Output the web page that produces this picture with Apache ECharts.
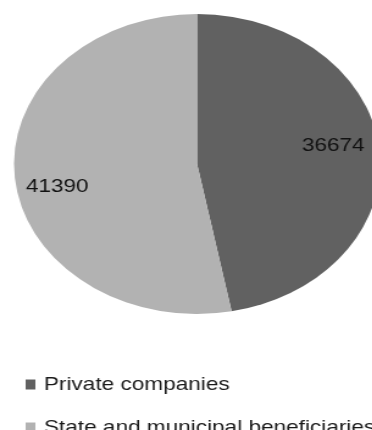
<!DOCTYPE html>
<html>
<head>
<meta charset="utf-8">
<script src="https://cdn.jsdelivr.net/npm/echarts@6/dist/echarts.min.js"></script>
<style>
  html, body { margin: 0; padding: 0; background: #fff; overflow: hidden; height: 430px; }
  /* the reference picture is stretched sideways, so the chart is drawn narrow and scaled */
  #chart { width: 305px; height: 480px; transform: scaleX(1.22); transform-origin: 0 0; }
</style>
</head>
<body>
<div id="chart"></div>
<script>
const categories = ['Private companies', 'State and municipal beneficiaries'];
const values = [36674, 41390];
const colors = ['#616161', '#b2b2b2'];
const labelShift = [[34, -11], [-37, 16]];

const chart = echarts.init(document.getElementById('chart'));
chart.setOption({
  animation: false,
  color: colors,
  legend: {
    orient: 'vertical',
    left: 16,
    top: 370,
    itemWidth: 8,
    itemHeight: 10,
    itemGap: 24,
    icon: 'rect',
    textStyle: {
      fontFamily: 'Liberation Sans',
      fontSize: 18.5,
      lineHeight: 18,
      color: '#1a1a1a',
      padding: [0, 0, 0, 2]
    },
    data: categories
  },
  series: [
    {
      type: 'pie',
      center: [161.5, 164],
      radius: 150,
      startAngle: 90,
      clockwise: true,
      silent: true,
      label: {
        show: true,
        position: 'inside',
        formatter: '{c}',
        fontFamily: 'Liberation Sans',
        fontSize: 18.5,
        color: '#111'
      },
      labelLine: { show: false },
      labelLayout: function (p) {
        return { dx: labelShift[p.dataIndex][0], dy: labelShift[p.dataIndex][1] };
      },
      data: categories.map((name, i) => ({ name: name, value: values[i] }))
    }
  ]
});
</script>
</body>
</html>
